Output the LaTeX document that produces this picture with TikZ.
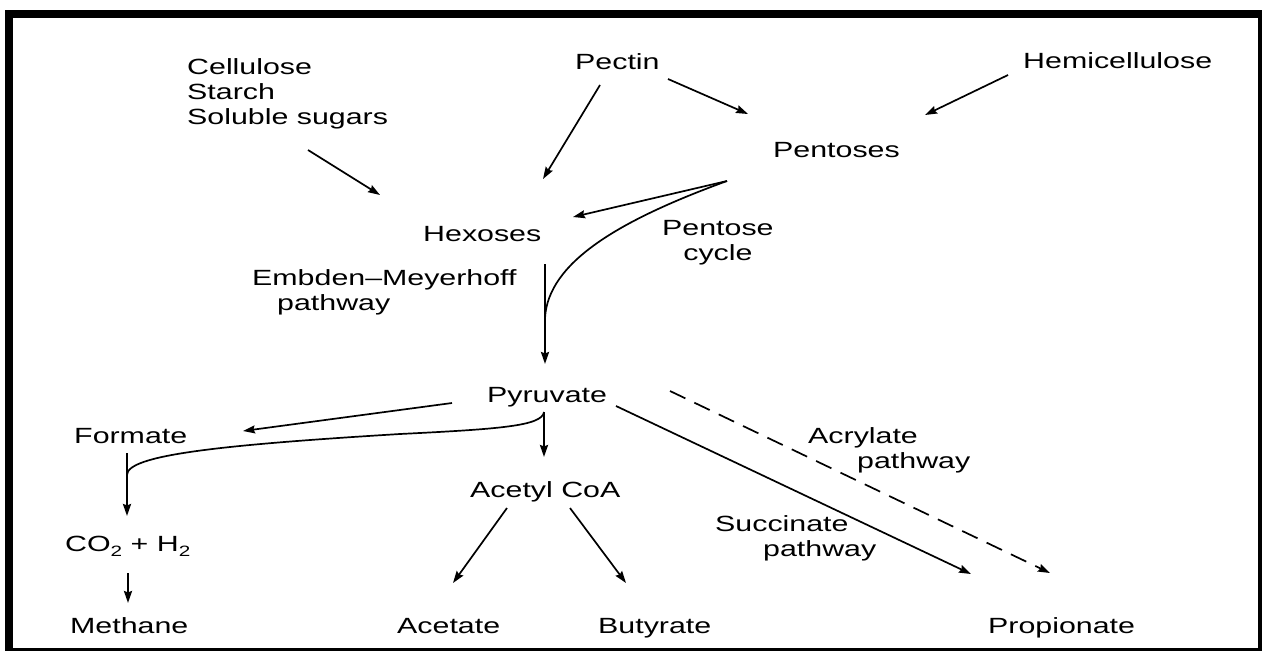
\documentclass[tikz,border=0pt]{standalone}
\usepackage{fontspec}
\setmainfont{Liberation Sans}[FakeStretch=1.38]
\usetikzlibrary{arrows.meta}
\newcommand{\subtwo}{\raisebox{-5pt}{\fontsize{15}{15}\selectfont 2}}
\begin{document}
\begin{tikzpicture}[x=1pt,y=-1pt,
  lbl/.style={inner sep=0pt,anchor=base west,align=left,
    font=\fontsize{22}{25}\selectfont},
  arr/.style={line width=1.7pt,-{Stealth[length=12pt,width=8pt,inset=1.5pt]}},
  varr/.style={arr,line width=2.2pt},
  plain/.style={line width=1.7pt}]
\useasboundingbox (0,0) rectangle (1263,651);
% frame: heavy top and left edges, light right and bottom edges
\fill[black] (5,10) rectangle (1262,651);
\fill[white] (13,18) rectangle (1258,648);

% substrates and products (multi-line labels sit on their last baseline)
\node[lbl] (poly) at (187,124) {Cellulose\\Starch\\Soluble sugars};
\node[lbl] (pectin) at (575,69) {Pectin};
\node[lbl] (hemi) at (1023,68) {Hemicellulose};
\node[lbl] (pentoses) at (773,157) {Pentoses};
\node[lbl] (hexoses) at (423,241) {Hexoses};
\node[lbl,align=center] (pcycle) at (662,260) {Pentose\\cycle};
\node[lbl] (emp) at (252,310) {Embden--Meyerhoff\\\hspace*{25pt}pathway};
\node[lbl] (pyruvate) at (487,402) {Pyruvate};
\node[lbl] (formate) at (74,443) {Formate};
\node[lbl] (acrylate) at (808,468) {Acrylate\\\hspace*{49pt}pathway};
\node[lbl] (acetylcoa) at (470,497) {Acetyl CoA};
\node[lbl] (succinate) at (715,556) {Succinate\\\hspace*{48pt}pathway};
\node[lbl] (co2h2) at (65,551) {CO\subtwo{} + H\subtwo};
\node[lbl] (methane) at (70,633) {Methane};
\node[lbl] (acetate) at (397,633) {Acetate};
\node[lbl] (butyrate) at (598,633) {Butyrate};
\node[lbl] (propionate) at (988,633) {Propionate};

% connector end points
\coordinate (polyOut) at (308,150);
\coordinate (hexIn1) at (380,195);
\coordinate (pecOut1) at (600,85);
\coordinate (hexIn2) at (543,179);
\coordinate (pecOut2) at (668,79);
\coordinate (penIn1) at (748,114);
\coordinate (hemOut) at (1008,75);
\coordinate (penIn2) at (925,115);
\coordinate (penOut) at (727,181);
\coordinate (hexIn3) at (573,217);
\coordinate (hexOut) at (545,264);
\coordinate (join1) at (545,318);
\coordinate (pyrIn) at (545,364);
\coordinate (pyrOut1) at (452,403);
\coordinate (forIn) at (243,431);
\coordinate (pyrOut2) at (544,412);
\coordinate (acoIn) at (544,457);
\coordinate (bend) at (400,434);
\coordinate (join2) at (127,475);
\coordinate (forOut) at (127,453);
\coordinate (co2In) at (127,516);
\coordinate (co2Out) at (128,573);
\coordinate (metIn) at (128,603);
\coordinate (acoOut1) at (507,508);
\coordinate (aceIn) at (453,583);
\coordinate (acoOut2) at (570,508);
\coordinate (butIn) at (626,583);
\coordinate (pyrOut3) at (616,406);
\coordinate (proIn1) at (971,574);
\coordinate (pyrOut4) at (670,391);
\coordinate (proIn2) at (1050,573);

% connectors
\draw[arr] (polyOut) -- (hexIn1);
\draw[arr] (pecOut1) -- (hexIn2);
\draw[arr] (pecOut2) -- (penIn1);
\draw[arr] (hemOut) -- (penIn2);
\draw[arr] (penOut) -- (hexIn3);
\draw[plain] (penOut) .. controls (620,220) and (548,262) .. (join1);
\draw[varr] (hexOut) -- (pyrIn);
\draw[arr] (pyrOut1) -- (forIn);
\draw[varr] (pyrOut2) -- (acoIn);
\draw[plain] (pyrOut2) .. controls (542,426) and (500,429) .. (bend)
  .. controls (220,445) and (127,455) .. (join2);
\draw[varr] (forOut) -- (co2In);
\draw[varr] (co2Out) -- (metIn);
\draw[arr] (acoOut1) -- (aceIn);
\draw[arr] (acoOut2) -- (butIn);
\draw[arr] (pyrOut3) -- (proIn1);
\draw[arr,dash pattern=on 17pt off 10pt] (pyrOut4) -- (proIn2);
\end{tikzpicture}
\end{document}
